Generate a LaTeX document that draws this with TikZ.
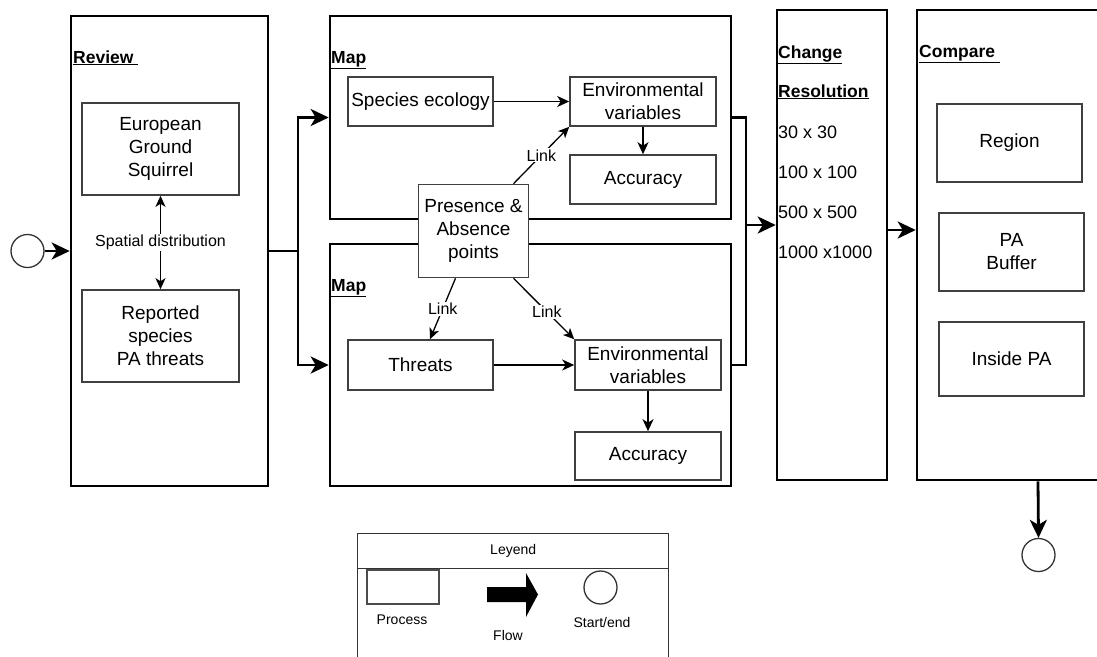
\documentclass[tikz,border=0pt]{standalone}
\usepackage{fontspec}
\setmainfont{Liberation Sans}
\usetikzlibrary{positioning,arrows.meta,calc}

\begin{document}
\begin{tikzpicture}[
    x=1pt, y=-1pt,
    stage/.style={draw=black, line width=2.6pt, inner sep=0pt},
    box/.style={draw=black!75, line width=1.6pt, fill=white, align=center,
                inner sep=0pt, font=\fontsize{19}{23}\selectfont},
    title/.style={anchor=base west, inner sep=0pt,
                  font=\bfseries\fontsize{17.5}{20}\selectfont},
    res/.style={anchor=base west, inner sep=0pt, font=\fontsize{18}{20}\selectfont},
    lbl/.style={fill=white, inner sep=1pt, font=\fontsize{16}{18}\selectfont},
    term/.style={draw=black!80, line width=1.3pt, circle, minimum size=33pt, inner sep=0pt},
    leg/.style={inner sep=0pt, font=\fontsize{14}{16}\selectfont},
    flow/.style={-{Stealth[length=18pt,width=17pt,inset=5pt]}, line width=2.8pt},
    flowline/.style={line width=2.8pt},
    arr/.style={-{Stealth[length=12pt,width=11pt,inset=3.5pt]}, line width=1.8pt},
    link/.style={-{Stealth[length=11pt,width=10pt,inset=3pt]}, line width=1.3pt},
  ]
  \useasboundingbox (0,0) rectangle (1097,656);

  % stages
  \node[stage, minimum width=197pt, minimum height=470pt] (review) at (169.5,251) {};
  \node[stage, minimum width=401pt, minimum height=203pt] (map1) at (530.5,117.5) {};
  \node[stage, minimum width=401pt, minimum height=242pt] (map2) at (530.5,365) {};
  \node[stage, minimum width=110pt, minimum height=470pt] (change) at (832,245) {};
  \node[stage, minimum width=242pt, minimum height=470pt] (compare) at (1038,245) {};

  \node[title] (reviewtitle) at (73,63) {\underline{Review~}};
  \node[title] (map1title) at (331,63) {\underline{Map}};
  \node[title] (map2title) at (331,291) {\underline{Map}};
  \node[title] (changetitle) at (778,58) {\underline{Change}};
  \node[title] (restitle) at (778,97) {\underline{Resolution}};
  \node[title] (comparetitle) at (919,57) {\underline{Compare~}};
  \foreach \res [count=\i] in {30 x 30, 100 x 100, 500 x 500, 1000 x1000}
    \node[res] (res\i) at (778,98+40*\i) {\res};

  % review
  \node[box, minimum width=157pt, minimum height=92pt] (squirrel) at (160.5,149)
    {European\\Ground\\Squirrel};
  \node[box, minimum width=157pt, minimum height=92pt] (reported) at (160.5,336)
    {Reported\\species\\PA threats};
  \draw[{Stealth[length=11pt,width=10pt,inset=3pt]}-{Stealth[length=11pt,width=10pt,inset=3pt]},
        line width=1.4pt] (squirrel) -- (reported)
    node[midway, lbl] (spatial) {Spatial distribution};

  % map with species ecology
  \node[box, minimum width=145pt, minimum height=49pt] (ecology) at (420.5,101.5) {Species ecology};
  \node[box, minimum width=146pt, minimum height=49pt] (env1) at (643,101.5) {Environmental\\variables};
  \node[box, minimum width=146pt, minimum height=49pt] (acc1) at (643,179.5) {Accuracy};

  % map with threats
  \node[box, minimum width=145pt, minimum height=50pt] (threats) at (420.5,365) {Threats};
  \node[box, minimum width=146pt, minimum height=50pt] (env2) at (648,365) {Environmental\\variables};
  \node[box, minimum width=146pt, minimum height=48pt] (acc2) at (648,456) {Accuracy};

  \node[box, minimum width=110pt, minimum height=93pt] (presence) at (473.5,231)
    {Presence \&\\Absence\\points};

  % compare
  \node[box, minimum width=145pt, minimum height=78pt] (region) at (1009.5,143) {Region};
  \node[box, minimum width=145pt, minimum height=78pt] (buffer) at (1011.5,252) {PA\\Buffer};
  \node[box, minimum width=145pt, minimum height=74pt] (inside) at (1011.5,359) {Inside PA};

  \node[term] (start) at (27.5,251) {};
  \node[term] (stop) at (1038.5,555) {};

  % flow
  \coordinate (split) at (298,251);
  \coordinate (join) at (746,225);
  \coordinate (handoff) at (900,230);
  \draw[flow] (start) -- (review);
  \draw[flowline] (review.east) -- (split);
  \draw[flow] (split) |- (map1.west);
  \draw[flow] (split) |- (map2.west);
  \draw[flowline] (map1.east) -| (join) |- (map2.east);
  \draw[flow] (join) -- (change.west |- join);
  \draw[flow] (change.east |- handoff) -- (compare.west |- handoff);
  \draw[flow] (compare.south) -- (stop.north);

  \draw[arr] (ecology) -- (env1);
  \draw[arr] (env1) -- (acc1);
  \draw[arr] (threats) -- (env2);
  \draw[arr] (env2) -- (acc2);

  \draw[link] ([xshift=40pt]presence.north) -- (env1.south west)
    node[midway, lbl] (link1) {Link};
  \draw[link] ([xshift=-18pt]presence.south) -- ([xshift=9.5pt]threats.north)
    node[midway, lbl] (link2) {Link};
  \draw[link] ([xshift=40pt]presence.south) -- (env2.north west)
    node[pos=0.55, lbl] (link3) {Link};

  % legend
  \node[draw=black!80, line width=1.4pt, minimum width=311pt, minimum height=150pt,
        anchor=north west] (legend) at (357,533) {};
  \node[leg, draw=black!80, line width=1.4pt, minimum width=311pt, minimum height=35pt,
        anchor=north west] (legtitle) at (legend.north west) {Leyend};
  \node[draw=black!70, line width=1.4pt, minimum width=72pt, minimum height=34pt]
    (legproc) at (403,587) {};
  \node[leg] (legproctxt) at (402,620) {Process};
  \fill (487,587) -- (526,587) -- (526,573) -- (538,594.5) -- (526,617)
    -- (526,602) -- (487,602) -- cycle;
  \node[leg] (legflowtxt) at (508,635) {Flow};
  \node[term] (legterm) at (600.5,587.5) {};
  \node[leg] (legtermtxt) at (602,622) {Start/end};
\end{tikzpicture}
\end{document}
